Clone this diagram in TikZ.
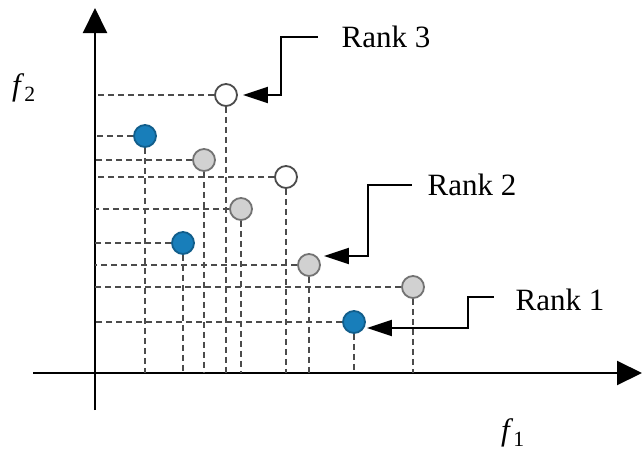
\documentclass[tikz,border=0pt]{standalone}
\usepackage{fontspec}
\setmainfont{Liberation Serif}
\usetikzlibrary{arrows.meta,positioning}
\definecolor{ptblue}{RGB}{24,126,186}

\begin{document}
\begin{tikzpicture}[x=1pt,y=-1pt,>={Triangle[length=25pt,width=24pt]},line width=2pt]
  \tikzstyle{sol}=[circle,inner sep=0pt,minimum size=22pt,line width=1.8pt]
  \tikzstyle{rankone}=[sol,draw=ptblue!75!black,fill=ptblue]
  \tikzstyle{ranktwo}=[sol,draw=black!55,fill=black!18]
  \tikzstyle{rankthree}=[sol,draw=black!70,fill=white]
  \tikzstyle{proj}=[dash pattern=on 6pt off 4pt,line width=1.5pt,black!70]
  \tikzstyle{tag}=[font=\fontsize{31}{36}\selectfont,inner sep=0pt]
  \tikzstyle{pointer}=[-{Triangle[length=25pt,width=16pt]},line width=2pt]

  \useasboundingbox (0,0) rectangle (644,455);

  % axes
  \coordinate (o) at (95,373);
  \coordinate (xstart) at (33,373);
  \coordinate (xend) at (642,373);
  \coordinate (ystart) at (95,410);
  \coordinate (yend) at (95,8);
  \draw[->] (xstart) -- (xend);
  \draw[->] (ystart) -- (yend);
  \node [tag] (f2) at (24,88) {\textit{f}\textsubscript{2}};
  \node [tag] (f1) at (513,433) {\textit{f}\textsubscript{1}};

  % solutions
  \node [rankthree] (s1) at (226,95) {};
  \node [rankone]   (s2) at (145,136) {};
  \node [ranktwo]   (s3) at (204,160) {};
  \node [rankthree] (s4) at (286,177) {};
  \node [ranktwo]   (s5) at (241,209) {};
  \node [rankone]   (s6) at (183,243) {};
  \node [ranktwo]   (s7) at (309,265) {};
  \node [ranktwo]   (s8) at (413,287) {};
  \node [rankone]   (s9) at (354,322) {};

  \foreach \s in {s1,s2,s3,s4,s5,s6,s7,s8,s9}
    \draw[proj] (\s.south) -- (\s |- o) (\s.west) -- (\s -| o);

  % fronts
  \node [tag] (r3) at (386,37) {Rank 3};
  \node [tag] (r2) at (472,185) {Rank 2};
  \node [tag] (r1) at (560,300) {Rank 1};

  \draw[pointer] ([xshift=-23pt]r3.west) -| ([xshift=43pt]s1.east) -- ([xshift=5pt]s1.east);
  \draw[pointer] ([xshift=-15pt]r2.west) -| ([shift={(47pt,9pt)}]s7.east) -- ([shift={(3pt,9pt)}]s7.east);
  \draw[pointer] ([shift={(-21pt,3pt)}]r1.west) -| ([shift={(102pt,-6pt)}]s9.east) -- ([shift={(1pt,-6pt)}]s9.east);
\end{tikzpicture}
\end{document}
